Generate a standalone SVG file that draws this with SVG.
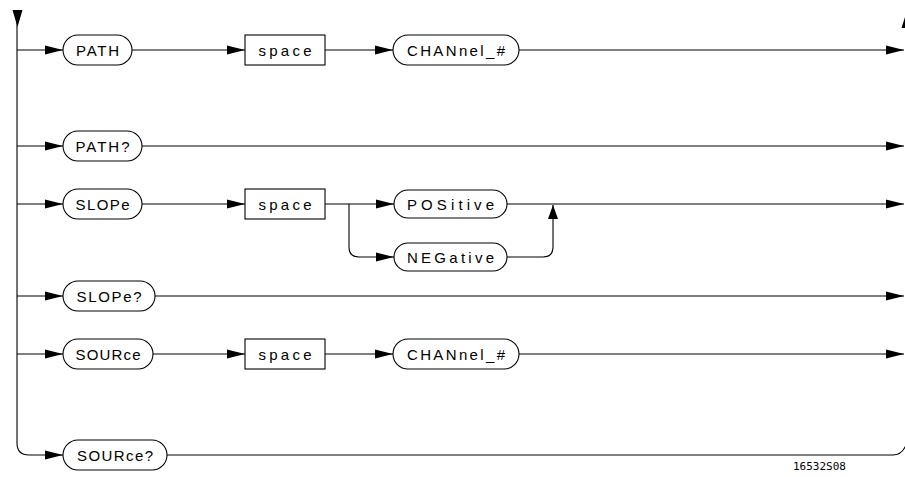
<svg xmlns="http://www.w3.org/2000/svg" width="905" height="477" viewBox="0 0 905 477">
<style>
.pill{fill:#fff;stroke:#000;stroke-width:1.1}
.box{fill:#fff;stroke:#000;stroke-width:1.1}
.t{font-family:"Liberation Sans",Arial,sans-serif;font-size:15px;fill:#000;text-anchor:middle}
.c{fill:none;stroke:#000;stroke-width:1.1}
.a{marker-end:url(#arr)}
.foot{font-family:"DejaVu Sans Mono","Liberation Mono",monospace;font-size:11px;fill:#000}
</style>
<defs>
<marker id="arr" markerUnits="userSpaceOnUse" markerWidth="18" markerHeight="10" refX="18" refY="5" orient="auto">
<path d="M0,0.5 L18,5 L0,9.5 z" fill="#000"/>
</marker>
<marker id="arrUp" markerUnits="userSpaceOnUse" markerWidth="14" markerHeight="10" refX="14" refY="5" orient="auto">
<path d="M0,0 L14,5 L0,10 z" fill="#000"/>
</marker>
</defs>
<rect width="905" height="477" fill="#fff"/>
<g id="connectors">
<polygon points="12.5,10 22.5,10 17.5,27" fill="#000"/>
<polygon points="905,17 901.5,28 908.5,28" fill="#000"/>
<path class="c a" d="M17,22 V443 Q17,455 29,455 H63"/>
<path class="c a" d="M17,50 H63"/>
<path class="c a" d="M17,146 H63"/>
<path class="c a" d="M17,204 H63"/>
<path class="c a" d="M17,296 H63"/>
<path class="c a" d="M17,354 H63"/>
<path class="c a" d="M132,50 H245"/>
<path class="c a" d="M325,50 H393"/>
<path class="c a" d="M519,50 H904"/>
<path class="c a" d="M142,146 H904"/>
<path class="c a" d="M142,204 H245"/>
<path class="c a" d="M325,204 H394"/>
<path class="c a" d="M349,204 V247 Q349,257 359,257 H394"/>
<path class="c a" d="M507,204 H904"/>
<path class="c" d="M507,257 H543 Q553,257 553,247 V205" marker-end="url(#arrUp)"/>
<path class="c a" d="M155,296 H904"/>
<path class="c a" d="M153,354 H245"/>
<path class="c a" d="M325,354 H393"/>
<path class="c a" d="M519,354 H904"/>
<path class="c" d="M167,455 H893 Q902,455 906,445"/>
</g>
<g id="n-path"><rect class="pill" x="63" y="35" width="69" height="30" rx="15"/><text class="t" x="97.5" y="55.5" textLength="43" lengthAdjust="spacing">PATH</text></g>
<g id="n-space1"><rect class="box" x="245" y="35" width="80" height="30"/><text class="t" x="285" y="55.5" textLength="53" lengthAdjust="spacing">space</text></g>
<g id="n-chan1"><rect class="pill" x="393" y="35" width="126" height="30" rx="15"/><text class="t" x="456" y="55.5" textLength="98" lengthAdjust="spacing">CHANnel_#</text></g>
<g id="n-pathq"><rect class="pill" x="63" y="131" width="79" height="30" rx="15"/><text class="t" x="102.5" y="151.5" textLength="54" lengthAdjust="spacing">PATH?</text></g>
<g id="n-slope"><rect class="pill" x="63" y="189" width="79" height="30" rx="15"/><text class="t" x="102.5" y="209.5" textLength="54" lengthAdjust="spacing">SLOPe</text></g>
<g id="n-space2"><rect class="box" x="245" y="189" width="80" height="30"/><text class="t" x="285" y="209.5" textLength="53" lengthAdjust="spacing">space</text></g>
<g id="n-pos"><rect class="pill" x="394" y="190" width="113" height="28" rx="14"/><text class="t" x="450.5" y="209.5" textLength="87" lengthAdjust="spacing">POSitive</text></g>
<g id="n-neg"><rect class="pill" x="394" y="243" width="113" height="28" rx="14"/><text class="t" x="450.5" y="262.5" textLength="87" lengthAdjust="spacing">NEGative</text></g>
<g id="n-slopeq"><rect class="pill" x="63" y="281" width="92" height="30" rx="15"/><text class="t" x="109" y="301.5" textLength="65" lengthAdjust="spacing">SLOPe?</text></g>
<g id="n-source"><rect class="pill" x="63" y="339" width="90" height="30" rx="15"/><text class="t" x="108" y="359.5" textLength="65" lengthAdjust="spacing">SOURce</text></g>
<g id="n-space3"><rect class="box" x="245" y="339" width="80" height="30"/><text class="t" x="285" y="359.5" textLength="53" lengthAdjust="spacing">space</text></g>
<g id="n-chan2"><rect class="pill" x="393" y="339" width="126" height="30" rx="15"/><text class="t" x="456" y="359.5" textLength="98" lengthAdjust="spacing">CHANnel_#</text></g>
<g id="n-sourceq"><rect class="pill" x="63" y="440" width="104" height="30" rx="15"/><text class="t" x="115" y="460.5" textLength="76" lengthAdjust="spacing">SOURce?</text></g>
<text class="foot" x="793" y="470">16532S08</text>
</svg>
